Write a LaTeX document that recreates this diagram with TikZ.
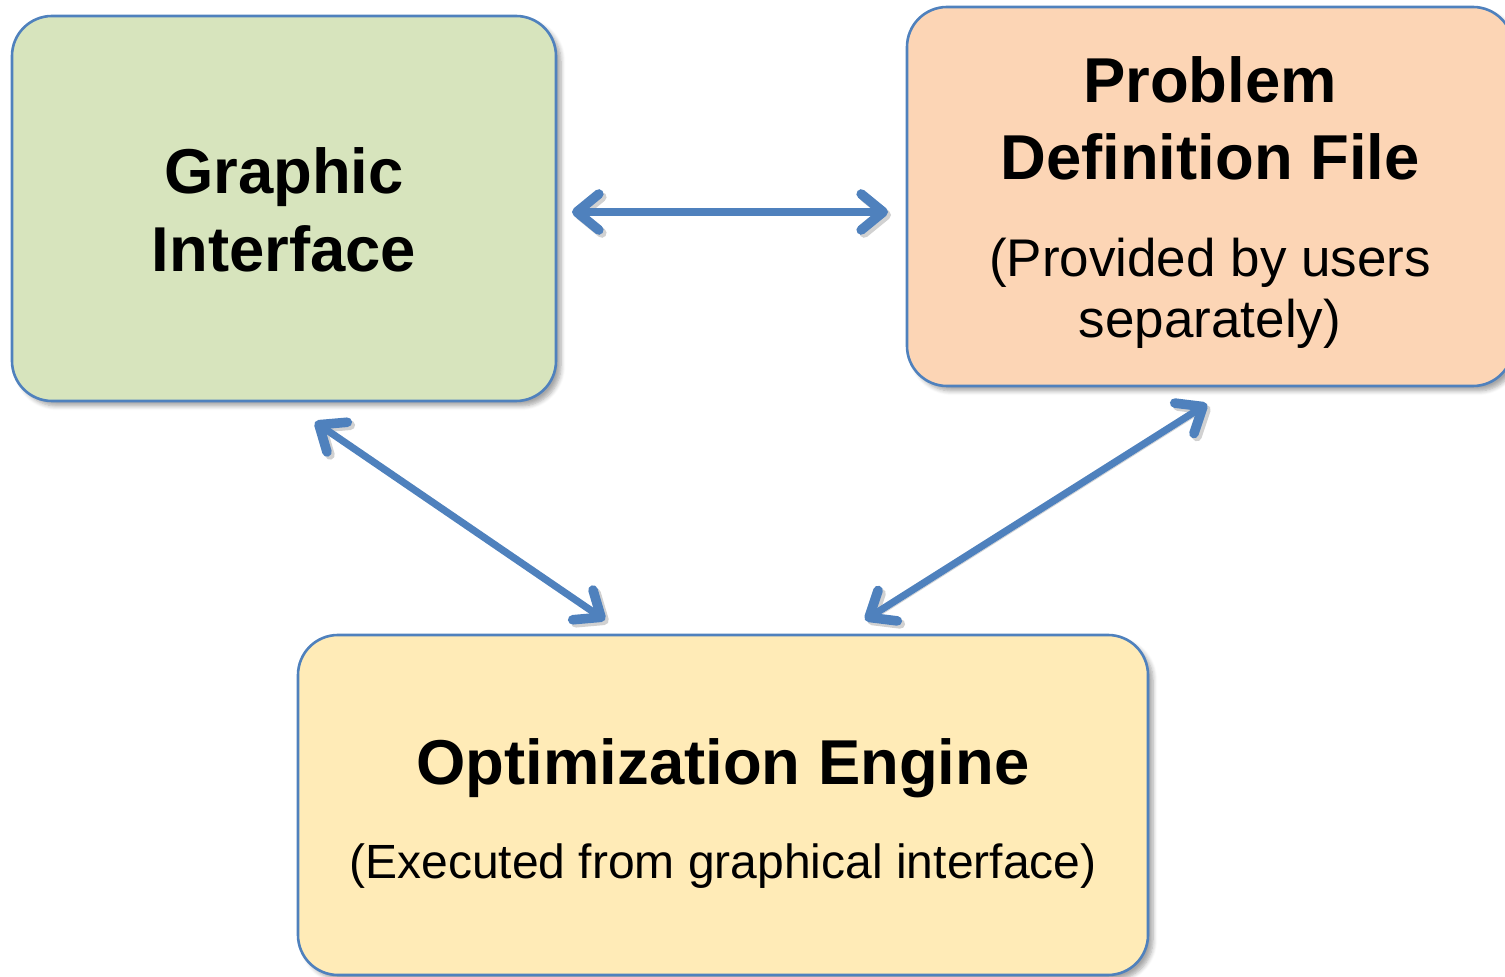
\documentclass[tikz,border=0pt]{standalone}
\usepackage{fontspec}
\setmainfont{Liberation Sans}
\usetikzlibrary{arrows.meta,calc,shadows.blur}

\definecolor{edgeblue}{HTML}{4F81BD}
\definecolor{guigreen}{HTML}{D7E4BD}
\definecolor{filepeach}{HTML}{FCD5B5}
\definecolor{engineyellow}{HTML}{FFEBB7}

\tikzset{
  box/.style={draw=edgeblue, line width=1.3pt, rounded corners=20pt,
    inner sep=0pt, outer sep=0pt,
    blur shadow={shadow xshift=2.5pt, shadow yshift=-2.5pt, shadow blur steps=6, shadow opacity=35}},
  title/.style={anchor=base, inner sep=0pt, font=\fontsize{31.7}{38}\selectfont\bfseries},
  note/.style={anchor=base, inner sep=0pt, font=\fontsize{26.5}{31}\selectfont},
  smallnote/.style={anchor=base, inner sep=0pt, font=\fontsize{24}{29}\selectfont},
  barb/.tip={Straight Barb[round, length=11pt, width=18pt, line width=4.8pt]},
  biarrow/.style={draw=edgeblue, line width=3.6pt, barb-barb,
    preaction={draw=black, opacity=0.18, transform canvas={xshift=1.5pt, yshift=-1.5pt}}}
}

\begin{document}
\begin{tikzpicture}[x=0.5pt, y=-0.5pt]
  \useasboundingbox (0,0) rectangle (1505,977);

  % the three blocks
  \node[box, fill=guigreen, minimum width=272pt, minimum height=192.5pt] (gi) at (284,208.5) {};
  \node[box, fill=filepeach, minimum width=303pt, minimum height=189.5pt] (pd) at (1210,196.5) {};
  \node[box, fill=engineyellow, minimum width=425pt, minimum height=170pt] (oe) at (723,805) {};

  % block texts
  \node[title] (gi1) at (284,194) {Graphic};
  \node[title] (gi2) at (284,272) {Interface};

  \node[title] (pd1) at (1210,103) {Problem};
  \node[title] (pd2) at (1210,180) {Definition File};
  \node[note]  (pd3) at (1210,277) {(Provided by users};
  \node[note]  (pd4) at (1210,338) {separately)};

  \node[title] (oe1) at (723,785) {Optimization Engine};
  \node[smallnote] (oe2) at (723,878) {(Executed from graphical interface)};

  % two-way links between the blocks
  \draw[biarrow] ($(gi.east)+(16,3.5)$) -- ($(gi.east -| pd.west)+(-19,3.5)$);
  \draw[biarrow] ($(gi.south)+(31,21)$) -- ($(oe.north)+(-118,-15)$);
  \draw[biarrow] ($(pd.south)+(-3,18)$) -- ($(oe.north)+(142,-15)$);
\end{tikzpicture}
\end{document}
